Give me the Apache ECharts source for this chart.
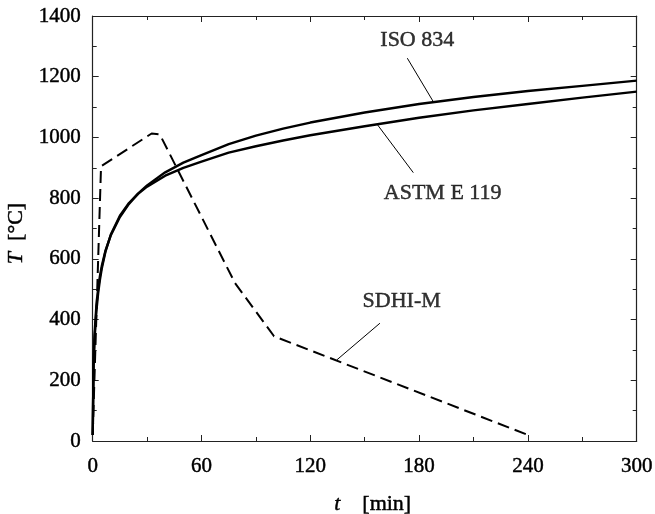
<!DOCTYPE html>
<html>
<head>
    <meta charset="utf-8">
    <title>ECharts</title>
    <script src="https://cdn.jsdelivr.net/npm/echarts@6/dist/echarts.min.js"></script>
    <style>
        html, body { margin: 0; padding: 0; background: #fff; }
    </style>
</head>
<body>
    <div id="main" style="width: 655px;height:514px;"></div>
    <script type="text/javascript">
        // time in minutes
        var time = [0, 0.5, 1, 2, 3, 4, 5, 7, 10, 15, 20, 25, 30, 40, 50, 60, 75, 90, 105, 120, 150, 180, 210, 240, 270, 300];
        var iso834 = [20, 261, 349, 444, 502, 544, 576, 626, 678, 738, 781, 815, 842, 885, 917, 942, 978, 1006, 1029, 1049, 1082, 1110, 1133, 1153, 1170, 1187];
        var astmE119 = [20, 255, 332, 426, 487, 532, 568, 623, 680, 742, 784, 814, 838, 874, 900, 920, 950, 971, 990, 1007, 1037, 1065, 1089, 1110, 1131, 1151];

        var sdhiTime = [0, 4.6, 32.5, 37, 78.5, 100, 240];
        var sdhiM = [20, 905, 1013, 1010, 520, 345, 20];

        // curve labels and their leader lines, in data units
        var labelNames = ['ISO 834', 'ASTM E 119', 'SDHI-M'];
        var labelPos = [[179, 1321], [193, 816], [170.4, 459]];
        var leaders = [
            [[173.5, 1261], [187.8, 1118]],
            [[156.9, 1043], [176.8, 884]],
            [[158.4, 388], [134.6, 267]]
        ];

        var font = 'Liberation Serif';
        // slight stroke so the serif text looks as heavy as the scan
        var heavy = { color: '#000', textBorderColor: '#000', textBorderWidth: 0.45 };

        function pairs(xs, ys) {
            return xs.map(function (x, i) { return [x, ys[i]]; });
        }

        var myChart = echarts.init(document.getElementById('main'));

        var axisLine = { show: true, onZero: false, lineStyle: { color: '#222', width: 1.2 } };
        var axisTick = { inside: true, length: 6, lineStyle: { color: '#222', width: 1 } };
        var minorTick = { show: true, splitNumber: 2, length: 4, lineStyle: { color: '#222', width: 1 } };

        var series = [{
            name: 'ISO 834',
            type: 'line',
            data: pairs(time, iso834),
            showSymbol: false,
            lineStyle: { color: '#000', width: 2.4 }
        }, {
            name: 'ASTM E 119',
            type: 'line',
            data: pairs(time, astmE119),
            showSymbol: false,
            lineStyle: { color: '#000', width: 2.4 }
        }, {
            name: 'SDHI-M',
            type: 'line',
            data: pairs(sdhiTime, sdhiM),
            showSymbol: false,
            lineStyle: { color: '#000', width: 2, type: [12, 6] }
        }, {
            type: 'scatter',
            silent: true,
            symbolSize: 0,
            data: labelPos.map(function (p, i) { return { value: p, name: labelNames[i] }; }),
            label: Object.assign({
                show: true,
                position: 'inside',
                formatter: '{b}',
                fontFamily: font,
                fontSize: 22
            }, heavy)
        }];

        leaders.forEach(function (seg) {
            series.push({
                type: 'line',
                silent: true,
                data: seg,
                showSymbol: false,
                lineStyle: { color: '#000', width: 1 }
            });
        });

        var italic = Object.assign({ fontStyle: 'italic', fontFamily: font, fontSize: 22 }, heavy);

        myChart.setOption({
            animation: false,
            grid: { left: 92.7, right: 18.3, top: 16, bottom: 73, outerBoundsMode: 'none' },
            xAxis: [{
                type: 'value',
                min: 0, max: 300, interval: 60,
                name: '{i|t}    [min]',
                nameLocation: 'middle',
                nameGap: 52,
                nameTextStyle: Object.assign({
                    fontFamily: font, fontSize: 22,
                    padding: [0, 0, 0, 16],
                    rich: { i: italic }
                }, heavy),
                axisLine: axisLine,
                axisTick: axisTick,
                minorTick: minorTick,
                splitLine: { show: false },
                axisLabel: Object.assign({ fontFamily: font, fontSize: 21, margin: 15 }, heavy)
            }, {
                type: 'value',
                position: 'top',
                min: 0, max: 300, interval: 60,
                axisLine: axisLine,
                axisTick: axisTick,
                minorTick: minorTick,
                splitLine: { show: false },
                axisLabel: { show: false }
            }],
            yAxis: [{
                type: 'value',
                min: 0, max: 1400, interval: 200,
                name: '{i|T}  [°C]',
                nameLocation: 'middle',
                nameRotate: 90,
                nameGap: 56,
                nameTextStyle: Object.assign({
                    fontFamily: font, fontSize: 22,
                    padding: [0, 10, 0, 0],
                    rich: { i: italic }
                }, heavy),
                axisLine: axisLine,
                axisTick: axisTick,
                minorTick: minorTick,
                splitLine: { show: false },
                axisLabel: Object.assign({
                    fontFamily: font, fontSize: 21, margin: 12,
                    formatter: function (v) { return String(v); }
                }, heavy)
            }, {
                type: 'value',
                position: 'right',
                min: 0, max: 1400, interval: 200,
                axisLine: axisLine,
                axisTick: axisTick,
                minorTick: minorTick,
                splitLine: { show: false },
                axisLabel: { show: false }
            }],
            series: series
        });
    </script>
</body>
</html>
